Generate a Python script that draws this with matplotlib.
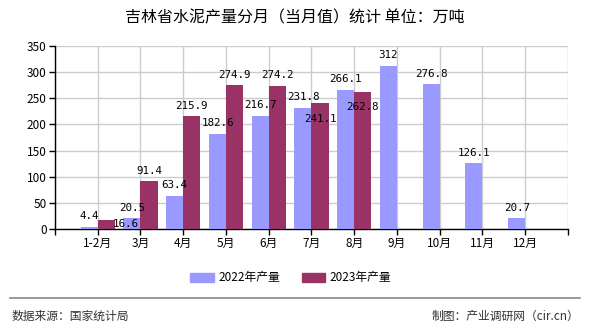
import numpy as np
import matplotlib.pyplot as plt
from matplotlib.patches import Patch

plt.rcParams['font.family'] = ['Noto Sans CJK SC', 'DejaVu Sans']

# monthly cement output, 10k tonnes
months = ['1-2月', '3月', '4月', '5月', '6月', '7月', '8月', '9月', '10月', '11月', '12月']
output_2022 = [4.4, 20.5, 63.4, 182.6, 216.7, 231.8, 266.1, 312, 276.8, 126.1, 20.7]
output_2023 = [16.6, 91.4, 215.9, 274.9, 274.2, 241.1, 262.8]

C22 = '#9999ff'
C23 = '#993366'
BAR_W = 0.4

# label nudges (points) where labels would collide
shift_22 = {}
shift_23 = {0: (14, -10), 5: (0, -19), 6: (0, -19)}

fig = plt.figure(figsize=(5.9, 3.3), dpi=100)
ax = fig.add_axes([0.0932, 0.306, 0.8695, 0.5546])

x = np.arange(1, len(months) + 1)
ax.bar(x[:len(output_2022)] - BAR_W / 2, output_2022, width=BAR_W, color=C22, zorder=3)
ax.bar(x[:len(output_2023)] + BAR_W / 2, output_2023, width=BAR_W, color=C23, zorder=3)


def put_labels(xs, vals, shifts):
    for i, (xi, v) in enumerate(zip(xs, vals)):
        dx, dy = shifts.get(i, (0, 0))
        ax.annotate(f'{v:g}', (xi, v), xytext=(dx, 4 + dy), textcoords='offset points',
                    ha='center', va='bottom', fontsize=7.8,
                    family='DejaVu Sans Mono', zorder=4)


put_labels(x[:len(output_2022)] - BAR_W / 2, output_2022, shift_22)
put_labels(x[:len(output_2023)] + BAR_W / 2, output_2023, shift_23)

ax.set_xlim(0, 12)
ax.set_ylim(0, 350)
ax.set_yticks(np.arange(0, 351, 50))
ax.set_xticks(np.arange(0, 13))
ax.set_xticklabels([''] + months + [''])
ax.tick_params(axis='both', labelsize=8.5, length=4, width=1, color='black', pad=2)
ax.grid(True, color='#cccccc', linewidth=1, zorder=0)
for side in ('top', 'right'):
    ax.spines[side].set_visible(False)
for side in ('left', 'bottom'):
    ax.spines[side].set_linewidth(1)
    ax.spines[side].set_color('black')

fig.text(0.5, 0.945, '吉林省水泥产量分月（当月值）统计 单位：万吨',
         ha='center', va='center', fontsize=11.5)

handles = [Patch(color=C22, label='2022年产量'), Patch(color=C23, label='2023年产量')]
fig.legend(handles=handles, loc='center', bbox_to_anchor=(0.493, 0.158), ncol=2,
           frameon=False, fontsize=8.5, handlelength=2.0, handleheight=0.8,
           columnspacing=1.8, handletextpad=0.4)

fig.add_artist(plt.Line2D([0.017, 0.983], [0.097, 0.097], color='#888888', linewidth=1.2))
fig.text(0.02, 0.042, '数据来源：国家统计局', ha='left', va='center', fontsize=8.5, color='#333333')
fig.text(0.982, 0.042, '制图：产业调研网（cir.cn）', ha='right', va='center', fontsize=8.5, color='#333333')

fig.savefig('out.png', dpi=100)
